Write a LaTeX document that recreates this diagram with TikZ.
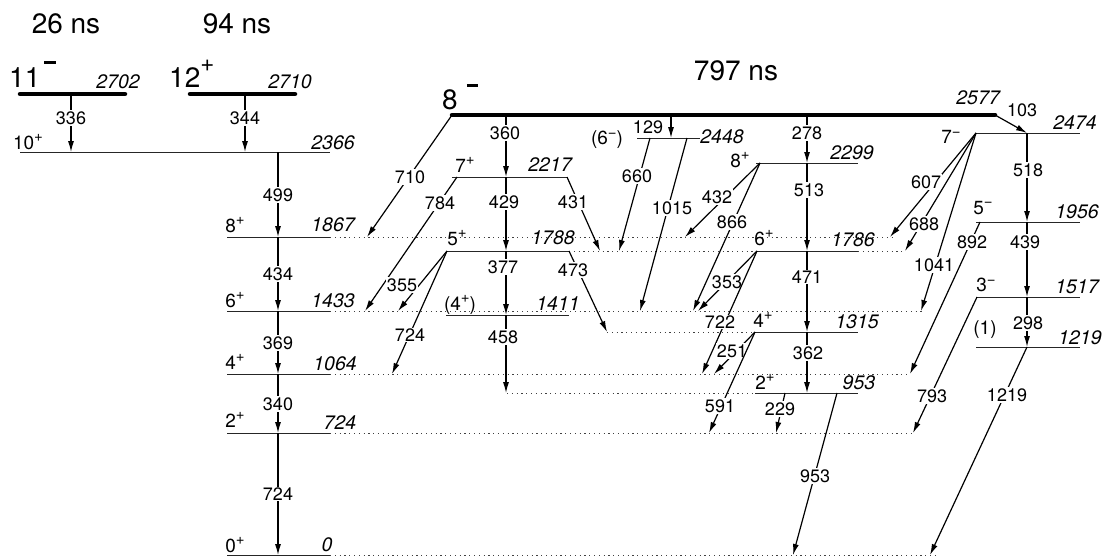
\documentclass[tikz,border=0pt]{standalone}
\usepackage{fontspec}
\setmainfont{TeX Gyre Heros}
\usetikzlibrary{arrows.meta}

\newcommand{\tlfont}{\fontsize{18}{18}\selectfont}
\newcommand{\enfont}{\fontsize{19.5}{20}\selectfont\itshape}
\newcommand{\spfont}{\fontsize{19}{19}\selectfont}
\newcommand{\bigfont}{\fontsize{28}{28}\selectfont}
\newcommand{\up}[1]{\raisebox{7.5pt}{\fontsize{15}{15}\selectfont#1}}

\tikzset{
  lev/.style={line width=1pt, black!85},
  ext/.style={line width=1pt, black!75, dash pattern=on 1.2pt off 3.6pt},
  iso/.style={line width=4.5pt, line cap=round},
  gam/.style={line width=1.2pt, ->},
  tl/.style={fill=white, inner sep=1pt, font=\tlfont},
  en/.style={inner sep=0pt, font=\enfont},
  sp/.style={inner sep=0pt, font=\spfont},
}

\begin{document}
\begin{tikzpicture}[x=1pt, y=-1pt, >={Latex[length=11pt,width=6pt]}]
    \useasboundingbox (0,0) rectangle (1105,557);

    % Level heights
    \foreach \e/\y in {2710/94, 2702/94, 2577/115, 2474/133, 2448/138, 2366/152,
        2299/163, 2217/177, 1956/222, 1867/237, 1788/251, 1786/251, 1517/297,
        1433/311, 1411/315, 1315/332, 1219/347, 1064/374, 953/393, 724/433, 0/555}
        \coordinate (L\e) at (0,\y);

    % Isomers
    \draw[iso] (20,0 |- L2702) -- (125,0 |- L2702);
    \draw[iso] (190,0 |- L2710) -- (295,0 |- L2710);
    \draw[iso] (452,0 |- L2577) -- (995,0 |- L2577);
    \node[font=\bigfont, inner sep=0pt] (t2702) at (66,24) {26 ns};
    \node[font=\bigfont, inner sep=0pt] (t2710) at (237,24) {94 ns};
    \node[font=\bigfont, inner sep=0pt] (t2577) at (736,71) {797 ns};
    \node[font=\bigfont, inner sep=0pt, anchor=base west] (s2702) at (9,87)
        {11\hspace{4pt}\raisebox{23pt}{\rule{12pt}{3pt}}};
    \node[font=\bigfont, inner sep=0pt, anchor=base west] (s2710) at (169,87)
        {12\raisebox{16pt}{\fontsize{24}{24}\selectfont+}};
    \node[font=\bigfont, inner sep=0pt, anchor=base west] (s2577) at (442,109)
        {8\hspace{9pt}\raisebox{22pt}{\rule{11pt}{3pt}}};

    % Ground band
    \draw[lev] (20,0 |- L2366) -- (330,0 |- L2366);
    \foreach \e/\r in {1867/893, 1433/923, 1064/910, 724/913, 0/935} {
        \draw[lev] (227,0 |- L\e) -- (330,0 |- L\e);
        \draw[ext] (330,0 |- L\e) -- (\r,0 |- L\e);
    }

    % Middle band
    \draw[lev] (452,0 |- L2217) -- (567,0 |- L2217);
    \draw[lev] (447,0 |- L1788) -- (569,0 |- L1788);
    \draw[ext] (569,0 |- L1786) -- (757,0 |- L1786);
    \draw[lev] (757,0 |- L1786) -- (858,0 |- L1786);
    \draw[ext] (858,0 |- L1786) -- (905,0 |- L1786);
    \draw[lev] (446,0 |- L1411) -- (569,0 |- L1411);
    \draw[lev] (637,0 |- L2448) -- (700,0 |- L2448);
    \draw[lev] (756,0 |- L2299) -- (858,0 |- L2299);
    \draw[ext] (607,0 |- L1315) -- (755,0 |- L1315);
    \draw[lev] (755,0 |- L1315) -- (858,0 |- L1315);
    \draw[ext] (507,0 |- L953) -- (755,0 |- L953);
    \draw[lev] (755,0 |- L953) -- (858,0 |- L953);

    % Right band
    \foreach \e in {2474, 1956, 1517, 1219}
        \draw[lev] (976,0 |- L\e) -- (1080,0 |- L\e);

    % Energies
    \node[en] (e2702) at (118,82) {2702};
    \node[en] (e2710) at (290,82) {2710};
    \node[en] (e2366) at (333,143) {2366};
    \node[en] (e1867) at (333,225) {1867};
    \node[en] (e1433) at (333,301) {1433};
    \node[en] (e1064) at (335,364) {1064};
    \node[en] (e724) at (340,423) {724};
    \node[en] (e0) at (327,545) {0};
    \node[en] (e2217) at (550,165) {2217};
    \node[en] (e1788) at (553,238) {1788};
    \node[en] (e1411) at (558,304) {1411};
    \node[en] (e2448) at (722,137) {2448};
    \node[en] (e2299) at (852,153) {2299};
    \node[en] (e1786) at (853,240) {1786};
    \node[en] (e1315) at (857,322) {1315};
    \node[en] (e953) at (859,383) {953};
    \node[en] (e2577) at (978,98) {2577};
    \node[en] (e2474) at (1075,123) {2474};
    \node[en] (e1956) at (1077,212) {1956};
    \node[en] (e1517) at (1077,287) {1517};
    \node[en] (e1219) at (1080,338) {1219};

    % Spins
    \node[sp] (s2366) at (28,142) {10\up{+}};
    \node[sp] (s1867) at (235,225) {8\up{+}};
    \node[sp] (s1433) at (235,300) {6\up{+}};
    \node[sp] (s1064) at (235,362) {4\up{+}};
    \node[sp] (s724) at (235,420) {2\up{+}};
    \node[sp] (s0) at (235,545) {0\up{+}};
    \node[sp] (s2217) at (465,165) {7\up{+}};
    \node[sp] (s1788) at (457,238) {5\up{+}};
    \node[sp] (s1411) at (460,305) {(4\up{+})};
    \node[sp] (s2448) at (607,140) {(6\up{−})};
    \node[sp] (s2299) at (740,160) {8\up{+}};
    \node[sp] (s1786) at (764,238) {6\up{+}};
    \node[sp] (s1315) at (763,320) {4\up{+}};
    \node[sp] (s953) at (765,382) {2\up{+}};
    \node[sp] (s2474) at (951,137) {7\up{−}};
    \node[sp] (s1956) at (983,208) {5\up{−}};
    \node[sp] (s1517) at (986,285) {3\up{−}};
    \node[sp] (s1219) at (985,330) {(1)};

    % Gamma rays, ground band
    \draw[gam] (71,0 |- L2702) -- (71,0 |- L2366) node[tl] (g336) at (71,118) {336};
    \draw[gam] (245,0 |- L2710) -- (245,0 |- L2366) node[tl] (g344) at (245,118) {344};
    \draw[gam] (278,0 |- L2366) -- (278,0 |- L1867) node[tl] (g499) at (278,195) {499};
    \draw[gam] (278,0 |- L1867) -- (278,0 |- L1433) node[tl] (g434) at (278,274) {434};
    \draw[gam] (278,0 |- L1433) -- (278,0 |- L1064) node[tl] (g369) at (278,343) {369};
    \draw[gam] (278,0 |- L1064) -- (278,0 |- L724) node[tl] (g340) at (278,404) {340};
    \draw[gam] (278,0 |- L724) -- (278,0 |- L0) node[tl] (g724) at (278,494) {724};

    % Gamma rays, middle
    \draw[gam] (452,0 |- L2577) -- (367,0 |- L1867) node[tl] (g710) at (410,177) {710};
    \draw[gam] (457,0 |- L2217) -- (365,0 |- L1433) node[tl] (g784) at (440,203) {784};
    \draw[gam] (506,0 |- L2577) -- (506,0 |- L2217) node[tl] (g360) at (505,133) {360};
    \draw[gam] (506,0 |- L2217) -- (506,0 |- L1788) node[tl] (g429) at (504,202) {429};
    \draw[gam] (567,0 |- L2217) -- (600,0 |- L1786) node[tl] (g431) at (573,202) {431};
    \draw[gam] (506,0 |- L1788) -- (506,0 |- L1411) node[tl] (g377) at (503,267) {377};
    \draw[gam] (506,0 |- L1411) -- (506,0 |- L953) node[tl] (g458) at (503,337) {458};
    \draw[gam] (569,0 |- L1788) -- (607,0 |- L1315) node[tl] (g473) at (573,270) {473};
    \draw[gam] (447,0 |- L1788) -- (398,0 |- L1433) node[tl] (g355) at (402,285) {355};
    \draw[gam] (447,0 |- L1788) -- (392,0 |- L1064) node[tl] (g724b) at (410,335) {724};
    \draw[gam] (671,0 |- L2577) -- (671,0 |- L2448) node[tl] (g129) at (648,127) {129};
    \draw[gam] (650,0 |- L2448) -- (619,0 |- L1788) node[tl] (g660) at (637,176) {660};
    \draw[gam] (687,0 |- L2448) -- (640,0 |- L1433) node[tl] (g1015) at (672,208) {1015};
    \draw[gam] (807,0 |- L2577) -- (807,0 |- L2299) node[tl] (g278) at (807,133) {278};
    \draw[gam] (807,0 |- L2299) -- (807,0 |- L1786) node[tl] (g513) at (809,190) {513};
    \draw[gam] (807,0 |- L1786) -- (807,0 |- L1315) node[tl] (g471) at (807,277) {471};
    \draw[gam] (807,0 |- L1315) -- (807,0 |- L953) node[tl] (g362) at (808,353) {362};
    \draw[gam] (760,0 |- L2299) -- (685,0 |- L1867) node[tl] (g432) at (717,197) {432};
    \draw[gam] (760,0 |- L2299) -- (693,0 |- L1433) node[tl] (g866) at (732,222) {866};
    \draw[gam] (757,0 |- L1786) -- (698,0 |- L1433) node[tl] (g353) at (727,282) {353};
    \draw[gam] (757,0 |- L1786) -- (702,0 |- L1064) node[tl] (g722) at (720,322) {722};
    \draw[gam] (755,0 |- L1315) -- (714,0 |- L1064) node[tl] (g251) at (732,351) {251};
    \draw[gam] (755,0 |- L1315) -- (709,0 |- L724) node[tl] (g591) at (720,406) {591};
    \draw[gam] (785,0 |- L953) -- (776,0 |- L724) node[tl] (g229) at (780,409) {229};
    \draw[gam] (837,0 |- L953) -- (793,0 |- L0) node[tl] (g953) at (815,476) {953};

    % Gamma rays, right band
    \draw[gam] (995,0 |- L2577) -- (1027,0 |- L2474) node[tl] (g103) at (1022,110) {103};
    \draw[gam] (1027,0 |- L2474) -- (1027,0 |- L1956) node[tl] (g518) at (1028,170) {518};
    \draw[gam] (1027,0 |- L1956) -- (1027,0 |- L1517) node[tl] (g439) at (1025,242) {439};
    \draw[gam] (1027,0 |- L1517) -- (1027,0 |- L1219) node[tl] (g298) at (1028,323) {298};
    \draw[gam] (976,0 |- L2474) -- (890,0 |- L1867) node[tl] (g607) at (926,182) {607};
    \draw[gam] (976,0 |- L2474) -- (905,0 |- L1786) node[tl] (g688) at (924,224) {688};
    \draw[gam] (976,0 |- L2474) -- (921,0 |- L1433) node[tl] (g1041) at (934,265) {1041};
    \draw[gam] (980,0 |- L1956) -- (910,0 |- L1064) node[tl] (g892) at (972,242) {892};
    \draw[gam] (977,0 |- L1517) -- (913,0 |- L724) node[tl] (g793) at (932,396) {793};
    \draw[gam] (1027,0 |- L1219) -- (930,0 |- L0) node[tl] (g1219) at (1007,395) {1219};
\end{tikzpicture}
\end{document}
